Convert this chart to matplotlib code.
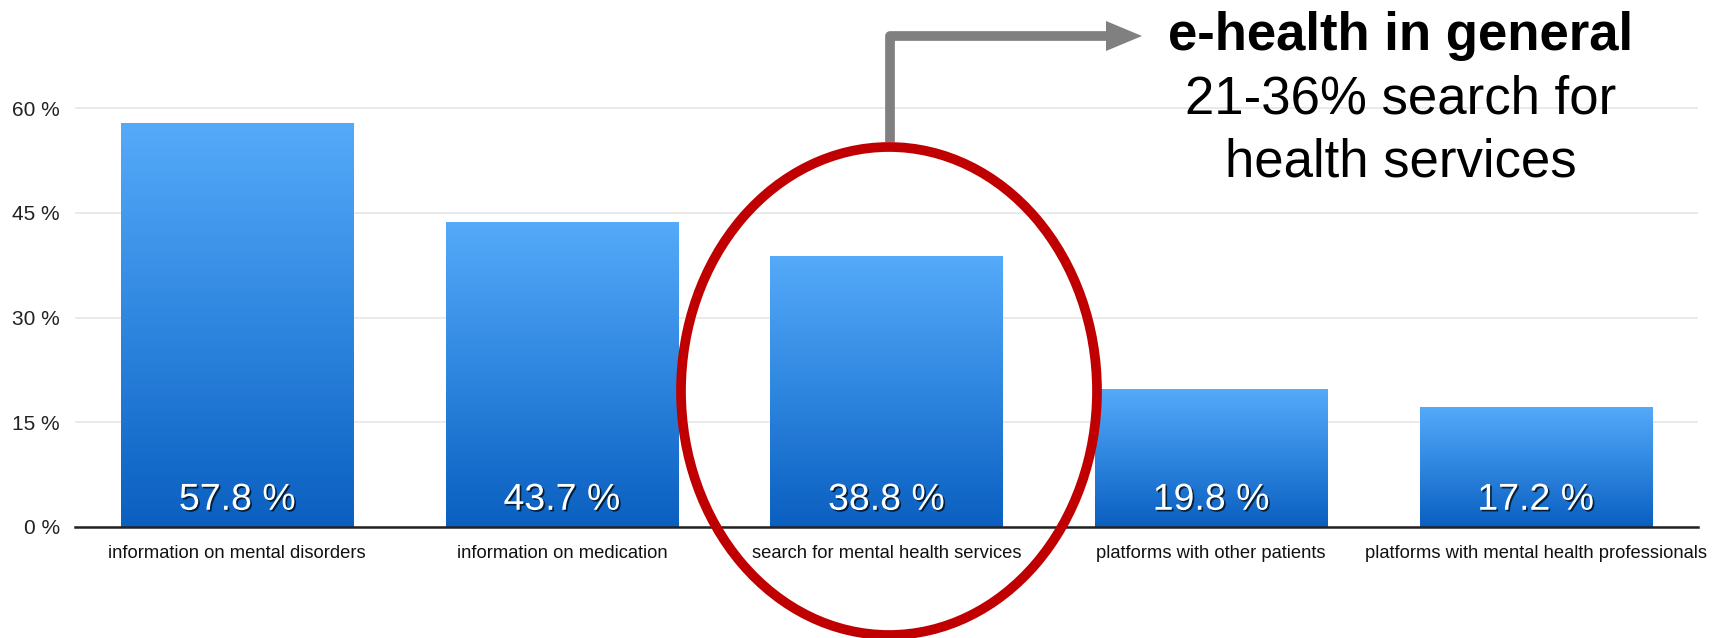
import matplotlib
matplotlib.use("Agg")
import matplotlib.pyplot as plt
import numpy as np
from matplotlib.patches import Ellipse, Polygon
from matplotlib.lines import Line2D
import matplotlib.patheffects as pe
from matplotlib.colors import LinearSegmentedColormap

categories = ["information on mental disorders", "information on medication",
              "search for mental health services", "platforms with other patients",
              "platforms with mental health professionals"]
values = [57.8, 43.7, 38.8, 19.8, 17.2]
value_labels = ["57.8 %", "43.7 %", "38.8 %", "19.8 %", "17.2 %"]
yticks = [0, 15, 30, 45, 60]
ytick_labels = ["0 %", "15 %", "30 %", "45 %", "60 %"]
title_bold = "e-health in general"
title_rest = "21-36% search for\nhealth services"

W, H = 1729, 638
fig = plt.figure(figsize=(W / 100, H / 100), dpi=100)
fig.patch.set_facecolor("white")

def fx(px):
    return px / W

def fy(py):
    return 1 - py / H

ax_left, ax_right, ax_bottom = 75, 1698, 527
ax = fig.add_axes([fx(ax_left), fy(ax_bottom), fx(ax_right - ax_left), 1 - fy(ax_bottom)])
ymax = 60 * ax_bottom / (ax_bottom - 108)
for s in ["top", "right", "left"]:
    ax.spines[s].set_visible(False)
ax.spines["bottom"].set_color("#222222")
ax.spines["bottom"].set_linewidth(1.8)
ax.set_yticks(yticks)
ax.set_yticklabels(ytick_labels, fontsize=15, family=["Liberation Sans", "DejaVu Sans"], color="#222222")
ax.tick_params(axis="y", length=0, pad=11)
ax.yaxis.grid(True, color="#e6e6e6", linewidth=1.2)
ax.set_axisbelow(True)
ax.set_xticks(range(len(categories)))
ax.set_xticklabels(categories, fontsize=13.2, family=["Liberation Sans", "DejaVu Sans"], color="#111111")
ax.tick_params(axis="x", length=0, pad=13)

cmap = LinearSegmentedColormap.from_list("bar", ["#0a5fc0", "#2f86df", "#55aaf9"])
grad = np.linspace(0, 1, 256).reshape(-1, 1)
bw = 0.715
for i, v in enumerate(values):
    bars = ax.bar(i, v, width=bw, color="none", edgecolor="none", zorder=2)
    rect = bars[0]
    im = ax.imshow(grad, cmap=cmap, origin="lower", aspect="auto",
                   extent=[i - bw / 2, i + bw / 2, 0, v], zorder=2)
    im.set_clip_path(rect)
    ax.text(i, 3.9, value_labels[i], ha="center", va="center", color="white",
            fontsize=27, family=["Liberation Sans", "DejaVu Sans"], zorder=4,
            path_effects=[pe.withSimplePatchShadow(offset=(1.2, -1.2), shadow_rgbFace="black", alpha=0.7)])
ax.set_xlim(-0.5, len(values) - 0.5)
ax.set_ylim(0, ymax)

# red ellipse
ell = Ellipse((fx(889), fy(391)), fx(416), 488 / H, transform=fig.transFigure,
              fill=False, edgecolor="#c00000", linewidth=7, zorder=10)
fig.add_artist(ell)

# gray arrow
arrow_line = Line2D([fx(890), fx(890), fx(1108)], [fy(142), fy(36), fy(36)],
                    transform=fig.transFigure, color="#808080", linewidth=7,
                    solid_joinstyle="round", solid_capstyle="butt", zorder=10)
fig.add_artist(arrow_line)
head = Polygon([[fx(1106), fy(21)], [fx(1142), fy(36)], [fx(1106), fy(51)]], closed=True,
               transform=fig.transFigure, facecolor="#808080", edgecolor="none", zorder=10)
fig.add_artist(head)

fig.text(fx(1401), fy(36), title_bold, ha="center", va="center", fontsize=38,
         fontweight="bold", family=["Liberation Sans", "DejaVu Sans"], color="black")
fig.text(fx(1401), fy(131), title_rest, ha="center", va="center", fontsize=38,
         family=["Liberation Sans", "DejaVu Sans"], color="black", linespacing=1.32)

fig.savefig("out.png", dpi=100, facecolor="white")
